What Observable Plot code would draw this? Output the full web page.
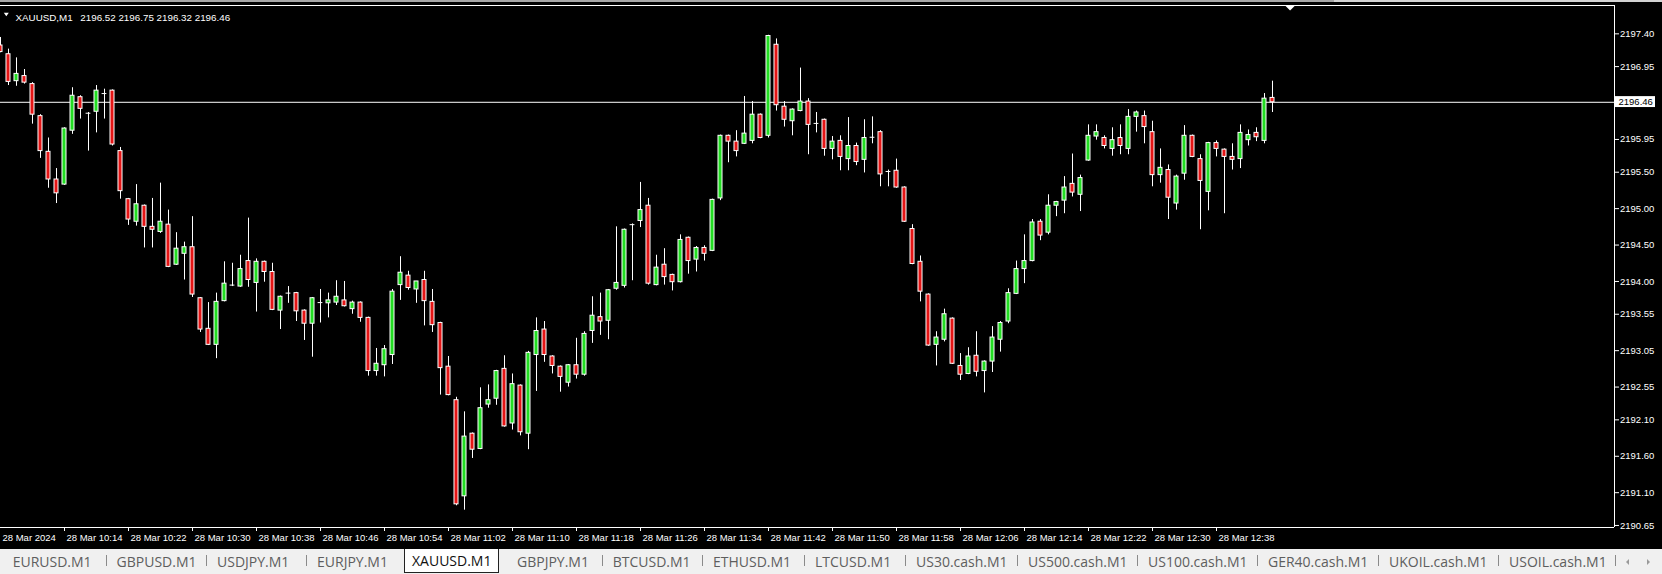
<!DOCTYPE html>
<html>
<head>
<meta charset="utf-8">
<script src="https://cdn.jsdelivr.net/npm/d3@7"></script>
<script src="https://cdn.jsdelivr.net/npm/@observablehq/plot@0.6"></script>
<style>
  html, body { margin: 0; padding: 0; background: #000; }
  #wrap { position: relative; width: 1662px; height: 574px; overflow: hidden; background: #000; }
  #chart { position: absolute; left: 0; top: 0; }
  #topbar { position: absolute; left: 0; top: 0; width: 1662px; height: 2px;
            background: linear-gradient(to right, #a6a6a6 0, #a6a6a6 1334px, #d2d2d2 1334px); }
  #tabs { position: absolute; left: 0; top: 549px; width: 1662px; height: 25px; background: #f0f0f0;
          font-family: "Open Sans", "Noto Sans", sans-serif; font-size: 14px; color: #5e5e5e; }
  .tab { position: absolute; top: 0; line-height: 25px; white-space: nowrap; }
  .tab.sel { top: 0; height: 23px; line-height: 23px; background: #fff; color: #111;
             border-left: 1px solid #222; border-right: 1px solid #222; border-bottom: 1px solid #222;
             padding: 0 7px; box-sizing: content-box; }
  .sep { position: absolute; top: 6px; width: 1px; height: 11px; background: #8a8a8a; }
  .arrow { position: absolute; top: 10px; width: 0; height: 0; border-top: 3px solid transparent; border-bottom: 3px solid transparent; }
  .arrow.l { border-right: 3px solid #9a9a9a; }
  .arrow.r { border-left: 3px solid #9a9a9a; }
</style>
</head>
<body>
<div id="wrap">
  <div id="chart"></div>
  <div id="topbar"></div>
  <div id="tabs"></div>
</div>
<script>
// ---------- data ----------
const symbolName = "XAUUSD,M1";
const headerOHLC = [2196.52, 2196.75, 2196.32, 2196.46];
const lastPrice = 2196.46;

const times = [
"10:06","10:07","10:08","10:09","10:10","10:11","10:12","10:13","10:14","10:15",
"10:16","10:17","10:18","10:19","10:20","10:21","10:22","10:23","10:24","10:25",
"10:26","10:27","10:28","10:29","10:30","10:31","10:32","10:33","10:34","10:35",
"10:36","10:37","10:38","10:39","10:40","10:41","10:42","10:43","10:44","10:45",
"10:46","10:47","10:48","10:49","10:50","10:51","10:52","10:53","10:54","10:55",
"10:56","10:57","10:58","10:59","11:00","11:01","11:02","11:03","11:04","11:05",
"11:06","11:07","11:08","11:09","11:10","11:11","11:12","11:13","11:14","11:15",
"11:16","11:17","11:18","11:19","11:20","11:21","11:22","11:23","11:24","11:25",
"11:26","11:27","11:28","11:29","11:30","11:31","11:32","11:33","11:34","11:35",
"11:36","11:37","11:38","11:39","11:40","11:41","11:42","11:43","11:44","11:45",
"11:46","11:47","11:48","11:49","11:50","11:51","11:52","11:53","11:54","11:55",
"11:56","11:57","11:58","11:59","12:00","12:01","12:02","12:03","12:04","12:05",
"12:06","12:07","12:08","12:09","12:10","12:11","12:12","12:13","12:14","12:15",
"12:16","12:17","12:18","12:19","12:20","12:21","12:22","12:23","12:24","12:25",
"12:26","12:27","12:28","12:29","12:30","12:31","12:32","12:33","12:34","12:35",
"12:36","12:37","12:38","12:39","12:40","12:41","12:42","12:43","12:44","12:45"];

const open = [
2197.24,2197.12,2196.75,2196.82,2196.71,2196.27,2195.78,2195.40,2195.33,2196.07,
2196.53,2196.31,2196.33,2196.58,2196.62,2195.79,2195.13,2194.82,2195.04,2194.75,
2194.68,2194.78,2194.23,2194.38,2194.47,2193.77,2193.35,2193.13,2193.73,2193.95,
2193.93,2194.28,2193.98,2194.27,2194.13,2193.60,2193.84,2193.84,2193.60,2193.42,
2193.71,2193.70,2193.71,2193.74,2193.62,2193.71,2193.50,2192.77,2192.85,2192.99,
2193.95,2194.08,2193.89,2194.02,2193.72,2193.43,2192.83,2192.37,2191.05,2191.91,
2191.70,2192.31,2192.39,2192.80,2192.05,2192.57,2191.91,2192.99,2193.34,2192.97,
2192.83,2192.61,2192.85,2192.72,2193.32,2193.51,2193.46,2193.90,2193.94,2194.78,
2194.83,2195.04,2193.95,2194.23,2194.09,2193.99,2194.60,2194.30,2194.46,2194.42,
2195.14,2196.00,2195.92,2195.89,2195.93,2196.29,2196.00,2197.25,2196.40,2196.20,
2196.34,2196.47,2196.17,2196.22,2195.82,2195.93,2195.68,2195.86,2195.67,2195.98,
2196.05,2195.51,2195.52,2195.29,2194.72,2194.27,2193.82,2193.13,2193.20,2193.49,
2192.84,2192.73,2192.98,2192.77,2192.90,2193.20,2193.45,2193.83,2194.17,2194.28,
2194.82,2194.67,2195.04,2195.11,2195.34,2195.19,2195.66,2195.99,2195.97,2195.82,
2195.97,2195.82,2196.26,2196.27,2196.05,2195.46,2195.53,2195.07,2195.48,2196.00,
2195.68,2195.23,2195.90,2195.81,2195.71,2195.68,2195.94,2196.04,2195.93,2196.52];

const high = [
2197.35,2197.19,2197.07,2196.91,2196.73,2196.29,2195.97,2195.55,2196.11,2196.66,
2196.55,2196.32,2196.69,2196.64,2196.63,2195.84,2195.14,2195.33,2195.05,2195.14,
2195.35,2194.98,2194.67,2194.54,2194.89,2193.78,2193.71,2193.84,2194.27,2194.25,
2194.36,2194.87,2194.31,2194.28,2194.25,2193.80,2193.93,2193.85,2193.61,2193.78,
2193.89,2193.84,2194.01,2194.00,2193.73,2193.72,2193.51,2193.08,2193.12,2193.89,
2194.34,2194.14,2194.00,2194.14,2193.89,2193.44,2192.97,2192.41,2192.21,2191.92,
2192.54,2192.58,2192.78,2192.98,2192.73,2192.58,2193.04,2193.50,2193.45,2192.98,
2192.84,2192.86,2193.22,2193.31,2193.79,2193.84,2193.89,2194.75,2194.72,2194.79,
2195.36,2195.14,2194.36,2194.45,2194.10,2194.64,2194.61,2194.48,2194.49,2195.13,
2196.01,2196.01,2196.07,2196.54,2196.47,2196.30,2197.38,2197.33,2196.47,2196.37,
2196.93,2196.51,2196.32,2196.23,2195.99,2196.00,2196.25,2195.90,2196.22,2196.26,
2196.07,2195.53,2195.68,2195.30,2194.78,2194.35,2193.83,2193.31,2193.62,2193.50,
2193.01,2193.09,2193.31,2192.91,2193.38,2193.45,2193.90,2194.28,2194.64,2194.85,
2194.85,2195.19,2195.10,2195.44,2195.75,2195.46,2196.15,2196.15,2196.00,2196.11,
2196.15,2196.36,2196.34,2196.34,2196.20,2195.82,2195.60,2195.46,2196.14,2196.01,
2195.74,2195.91,2195.93,2195.82,2195.89,2196.15,2196.08,2196.11,2196.58,2196.75];

const low = [
2197.14,2196.69,2196.68,2196.71,2196.16,2195.69,2195.28,2195.07,2195.32,2196.02,
2196.23,2195.79,2196.04,2196.23,2195.86,2195.13,2194.77,2194.76,2194.46,2194.46,
2194.66,2194.19,2194.22,2194.02,2193.78,2193.30,2193.12,2192.94,2193.72,2193.93,
2193.92,2193.92,2193.58,2193.99,2193.60,2193.34,2193.70,2193.45,2193.19,2192.96,
2193.43,2193.50,2193.67,2193.65,2193.55,2193.44,2192.70,2192.70,2192.69,2192.86,
2193.74,2193.88,2193.70,2193.39,2193.30,2192.44,2192.43,2190.92,2190.86,2191.57,
2191.69,2192.26,2192.30,2192.00,2191.96,2191.88,2191.69,2192.49,2192.89,2192.73,
2192.48,2192.55,2192.66,2192.70,2193.15,2193.26,2193.20,2193.88,2193.91,2194.01,
2194.74,2193.95,2193.94,2193.95,2193.87,2193.98,2194.10,2194.13,2194.28,2194.41,
2195.11,2195.63,2195.71,2195.88,2195.89,2195.96,2195.97,2196.34,2196.12,2196.00,
2196.33,2195.74,2196.04,2195.72,2195.67,2195.52,2195.52,2195.59,2195.49,2195.89,
2195.30,2195.30,2195.28,2194.81,2194.23,2193.72,2193.11,2192.84,2193.17,2192.86,
2192.64,2192.72,2192.69,2192.47,2192.75,2193.03,2193.42,2193.82,2193.97,2194.27,
2194.56,2194.64,2194.89,2194.93,2195.16,2194.96,2195.65,2195.94,2195.82,2195.72,
2195.74,2195.74,2196.05,2195.89,2195.30,2195.35,2194.85,2194.98,2195.39,2195.70,
2194.71,2194.97,2195.71,2194.93,2195.53,2195.55,2195.86,2195.92,2195.89,2196.32];

const close = [
2197.15,2196.74,2196.85,2196.73,2196.29,2195.79,2195.40,2195.21,2196.10,2196.55,
2196.37,2196.31,2196.62,2196.58,2195.88,2195.24,2194.85,2195.06,2194.75,2194.71,
2194.82,2194.20,2194.45,2194.47,2193.82,2193.34,2193.13,2193.72,2193.97,2193.95,
2194.17,2194.02,2194.27,2194.13,2193.61,2193.79,2193.84,2193.59,2193.42,2193.77,
2193.71,2193.74,2193.79,2193.66,2193.71,2193.50,2192.77,2192.87,2193.07,2193.86,
2194.12,2193.91,2194.00,2193.73,2193.40,2192.81,2192.44,2190.94,2191.87,2191.69,
2192.26,2192.37,2192.77,2192.01,2192.59,2191.93,2193.02,2193.32,2192.99,2192.84,
2192.69,2192.85,2192.72,2193.28,2193.53,2193.45,2193.88,2193.98,2194.71,2194.78,
2194.98,2193.97,2194.19,2194.06,2193.99,2194.57,2194.28,2194.46,2194.38,2195.12,
2196.00,2195.92,2195.79,2196.03,2196.29,2195.97,2197.37,2196.42,2196.22,2196.36,
2196.47,2196.15,2196.17,2195.82,2195.92,2195.71,2195.86,2195.64,2195.97,2195.98,
2195.47,2195.51,2195.29,2194.82,2194.24,2193.86,2193.12,2193.23,2193.55,2192.87,
2192.72,2192.97,2192.76,2192.90,2193.23,2193.43,2193.84,2194.17,2194.28,2194.81,
2194.63,2195.04,2195.09,2195.29,2195.22,2195.42,2196.00,2196.05,2195.86,2195.94,
2195.86,2196.26,2196.32,2196.12,2195.46,2195.56,2195.15,2195.44,2196.00,2195.71,
2195.38,2195.90,2195.82,2195.71,2195.67,2196.04,2196.01,2195.98,2196.51,2196.46];

const yTickValues = [2197.40, 2196.95, 2195.95, 2195.50, 2195.00, 2194.50, 2194.00,
                     2193.55, 2193.05, 2192.55, 2192.10, 2191.60, 2191.10, 2190.65];
const xTickIndex = [0, 8, 16, 24, 32, 40, 48, 56, 64, 72, 80, 88, 96, 104, 112, 120, 128, 136, 144, 152];
const xTickLabels = ["28 Mar 2024", "28 Mar 10:14", "28 Mar 10:22", "28 Mar 10:30", "28 Mar 10:38",
  "28 Mar 10:46", "28 Mar 10:54", "28 Mar 11:02", "28 Mar 11:10", "28 Mar 11:18", "28 Mar 11:26",
  "28 Mar 11:34", "28 Mar 11:42", "28 Mar 11:50", "28 Mar 11:58", "28 Mar 12:06", "28 Mar 12:14",
  "28 Mar 12:22", "28 Mar 12:30", "28 Mar 12:38"];
const chartShiftIndex = 161.2;

const tabNames = ["EURUSD.M1","GBPUSD.M1","USDJPY.M1","EURJPY.M1","XAUUSD.M1","GBPJPY.M1","BTCUSD.M1",
  "ETHUSD.M1","LTCUSD.M1","US30.cash.M1","US500.cash.M1","US100.cash.M1","GER40.cash.M1","UKOIL.cash.M1","USOIL.cash.M1"];
const selectedTab = "XAUUSD.M1";

// ---------- layout ----------
const W = 1662, H = 549;
const mTop = 5, mBottom = 22, mLeft = 0, mRight = 48;
const pxPerBar = 8;
const xMax = (W - mLeft - mRight) / pxPerBar;          // bars visible across plot width
const yDomain = [2190.622, 2197.789];
const UP = "#22dd22", DOWN = "#e51515";

const bars = times.map((t, i) => ({i, t, o: open[i], h: high[i], l: low[i], c: close[i]}));
const bodies = bars.filter(d => d.o !== d.c);
const dojis = bars.filter(d => d.o === d.c);

// downward triangle symbol: half-width = s*half, height = s*ht, with s = sqrt(size)/2
const downTri = (half, ht) => ({
  draw(ctx, size) {
    const s = Math.sqrt(size) / 2;
    ctx.moveTo(-s * half, -s * ht / 2);
    ctx.lineTo(s * half, -s * ht / 2);
    ctx.lineTo(0, s * ht / 2);
    ctx.closePath();
  }
});

const chart = Plot.plot({
  width: W, height: H,
  marginTop: mTop, marginBottom: mBottom, marginLeft: mLeft, marginRight: mRight,
  x: {domain: [0, xMax], axis: null, label: null},
  y: {domain: yDomain, axis: null, label: null},
  style: {background: "#000", color: "#fff", fontFamily: "'Liberation Sans', Arial, sans-serif", fontSize: "9.5px", overflow: "visible"},
  marks: [
    // current price line
    Plot.ruleY([lastPrice], {stroke: "#fff", strokeWidth: 1}),
    // wicks
    Plot.ruleX(bars, {x: "i", y1: "l", y2: "h", stroke: "#fff", strokeWidth: 1}),
    // bodies
    Plot.rect(bodies, {
      x1: d => d.i - 0.25, x2: d => d.i + 0.25,
      y1: d => Math.min(d.o, d.c), y2: d => Math.max(d.o, d.c),
      fill: d => d.c > d.o ? UP : DOWN, stroke: "#fff", strokeWidth: 1
    }),
    // doji bars
    Plot.ruleY(dojis, {x1: d => d.i - 0.3, x2: d => d.i + 0.3, y: "o", stroke: "#fff", strokeWidth: 1}),
    // frame: top, bottom, right
    Plot.ruleY([yDomain[1]], {x1: 0, x2: xMax, stroke: "#fff"}),
    Plot.ruleY([yDomain[0]], {x1: 0, x2: xMax, stroke: "#fff"}),
    Plot.ruleX([xMax], {stroke: "#fff"}),
    // price axis
    Plot.axisY(yTickValues, {anchor: "right", label: null, tickSize: 4, tickPadding: 1.5, tickFormat: d => d.toFixed(2)}),
    // current price label
    Plot.rect([lastPrice], {x1: xMax, x2: xMax + 41 / pxPerBar, y1: d => d - 0.072, y2: d => d + 0.078, fill: "#fff"}),
    Plot.text([lastPrice], {x: xMax, y: d => d, text: d => d.toFixed(2), textAnchor: "start", dx: 4, fill: "#000"}),
    // time axis
    Plot.axisX(xTickIndex.slice(1), {anchor: "bottom", label: null, tickSize: 4, tickFormat: () => ""}),
    Plot.axisX(xTickIndex, {anchor: "bottom", label: null, tickSize: 0, tickPadding: 6.5, textAnchor: "start", dx: 2,
      tickFormat: d => xTickLabels[xTickIndex.indexOf(d)]}),
    // header
    Plot.dot([0], {frameAnchor: "top-left", dx: 5.8, dy: 9, r: 2.85, symbol: downTri(1.0, 1.35), fill: "#fff", stroke: null}),
    Plot.text([symbolName + "\u2002 " + headerOHLC.map(v => v.toFixed(2)).join(" ")],
      {frameAnchor: "top-left", dx: 15, dy: 9, text: d => d, textAnchor: "start", fill: "#fff", fontSize: 9.8}),
    // chart shift marker
    Plot.dot([chartShiftIndex], {x: d => d, frameAnchor: "top", dy: 2.8, r: 2.55, symbol: downTri(2.0, 2.0), fill: "#fff", stroke: null})
  ]
});
document.getElementById("chart").appendChild(chart);

// ---------- symbol tabs ----------
const tabLefts = [12.7, 116.6, 217, 317, 404, 517, 612.7, 713, 815, 916, 1028, 1148, 1268, 1389, 1509];
const tabsEl = document.getElementById("tabs");
tabNames.forEach((name, i) => {
  const el = document.createElement("div");
  el.className = "tab" + (name === selectedTab ? " sel" : "");
  el.style.left = tabLefts[i] + "px";
  el.textContent = name;
  tabsEl.appendChild(el);
  const prevSel = i > 0 && tabNames[i - 1] === selectedTab;
  if (i > 0 && name !== selectedTab && !prevSel) {
    const s = document.createElement("div");
    s.className = "sep";
    s.style.left = (tabLefts[i] - 10.7) + "px";
    tabsEl.appendChild(s);
  }
});
const endSep = document.createElement("div");
endSep.className = "sep"; endSep.style.left = "1615px"; tabsEl.appendChild(endSep);
[["l", 1626], ["r", 1647]].forEach(([dir, x]) => {
  const a = document.createElement("div");
  a.className = "arrow " + dir; a.style.left = x + "px"; tabsEl.appendChild(a);
});
</script>
</body>
</html>
